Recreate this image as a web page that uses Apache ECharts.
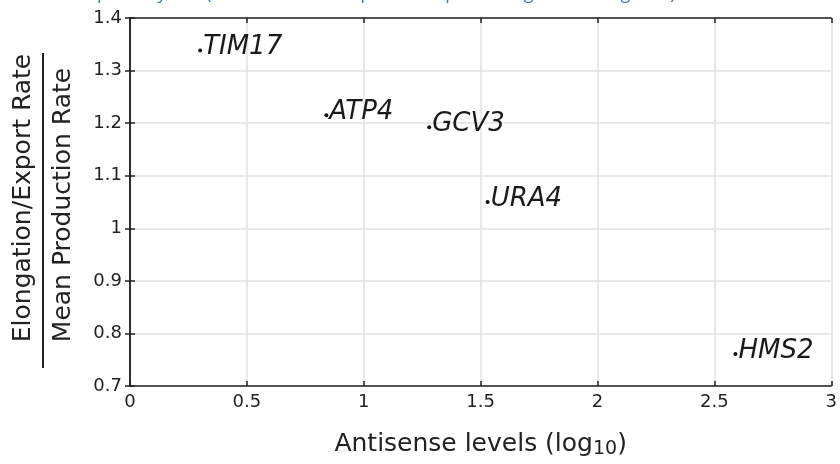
<!DOCTYPE html>
<html>
<head>
<meta charset="utf-8">
<script src="https://cdn.jsdelivr.net/npm/echarts@6/dist/echarts.min.js"></script>
<style>
  html, body { margin: 0; padding: 0; background: #fff; }
  #main { width: 840px; height: 464px; }
</style>
</head>
<body>
<div id="main"></div>
<script>
// data
var genes = ['TIM17', 'ATP4', 'GCV3', 'URA4', 'HMS2'];
var antisense = [0.30, 0.84, 1.28, 1.53, 2.59];
var ratio = [1.338, 1.215, 1.192, 1.050, 0.761];
var xTicks = [0, 3, 0.5];   // min, max, step
var yTicks = [0.7, 1.4, 0.1];

var points = genes.map(function (g, i) { return [antisense[i], ratio[i], g]; });

var font = 'DejaVu Sans';
var ink = '#222';

var chart = echarts.init(document.getElementById('main'));
chart.setOption({
    animation: false,
    backgroundColor: '#fff',
    grid: { left: 130, right: 8, top: 18, bottom: 76 },
    xAxis: [{
        type: 'value', min: xTicks[0], max: xTicks[1], interval: xTicks[2],
        position: 'bottom',
        axisLine: { show: true, lineStyle: { color: ink, width: 1.5 } },
        axisTick: { show: true, inside: true, length: 5, lineStyle: { color: ink, width: 1.5 } },
        axisLabel: { color: ink, fontFamily: font, fontSize: 18, margin: 7 },
        splitLine: { show: true, lineStyle: { color: '#e2e2e2', width: 1.5 } },
        name: '{a|Antisense levels (log}{s|10}{a|)}',
        nameLocation: 'middle', nameGap: 44,
        nameTextStyle: {
            rich: {
                a: { fontFamily: font, fontSize: 25, color: ink },
                s: { fontFamily: font, fontSize: 19, color: ink, padding: [10, 0, 0, 0] }
            }
        }
    }, {
        type: 'value', min: xTicks[0], max: xTicks[1], interval: xTicks[2],
        position: 'top',
        axisLine: { show: true, lineStyle: { color: ink, width: 1.5 } },
        axisTick: { show: true, inside: true, length: 5, lineStyle: { color: ink, width: 1.5 } },
        axisLabel: { show: false },
        splitLine: { show: false }
    }],
    yAxis: [{
        type: 'value', min: yTicks[0], max: yTicks[1], interval: yTicks[2],
        position: 'left',
        axisLine: { show: true, lineStyle: { color: ink, width: 1.5 } },
        axisTick: { show: true, inside: true, length: 5, lineStyle: { color: ink, width: 1.5 } },
        axisLabel: { color: ink, fontFamily: font, fontSize: 18, margin: 8 },
        splitLine: { show: true, lineStyle: { color: '#e2e2e2', width: 1.5 } }
    }, {
        type: 'value', min: yTicks[0], max: yTicks[1], interval: yTicks[2],
        position: 'right',
        axisLine: { show: true, lineStyle: { color: ink, width: 1.5 } },
        axisTick: { show: true, inside: true, length: 5, lineStyle: { color: ink, width: 1.5 } },
        axisLabel: { show: false },
        splitLine: { show: false }
    }],
    series: [{
        type: 'scatter',
        xAxisIndex: 0, yAxisIndex: 0,
        data: points,
        symbolSize: 4,
        itemStyle: { color: '#111', opacity: 1 },
        label: {
            show: true, position: 'right', distance: 1, offset: [0, -3],
            formatter: function (p) { return p.data[2]; },
            fontFamily: font, fontStyle: 'italic', fontSize: 26, color: '#1a1a1a'
        }
    }],
    graphic: [
        {
            type: 'text', x: 23, y: 198, rotation: Math.PI / 2,
            style: { text: 'Elongation/Export Rate', x: 0, y: 0, align: 'center', verticalAlign: 'middle',
                     fontFamily: font, fontSize: 25, fill: ink }
        },
        {
            type: 'line',
            shape: { x1: 43, y1: 53, x2: 43, y2: 368 },
            style: { stroke: ink, lineWidth: 2 }
        },
        {
            type: 'text', x: 63, y: 205, rotation: Math.PI / 2,
            style: { text: 'Mean Production Rate', x: 0, y: 0, align: 'center', verticalAlign: 'middle',
                     fontFamily: font, fontSize: 25, fill: ink }
        },
        {
            // caption above the figure, cut off by the crop
            type: 'text', left: 10, top: -15,
            style: { text: 'nuclear export in yeast (antisense transcription comparison figure of the genes)',
                     fontFamily: 'Open Sans', fontSize: 18, fill: '#4472c4' }
        }
    ]
});
</script>
</body>
</html>
